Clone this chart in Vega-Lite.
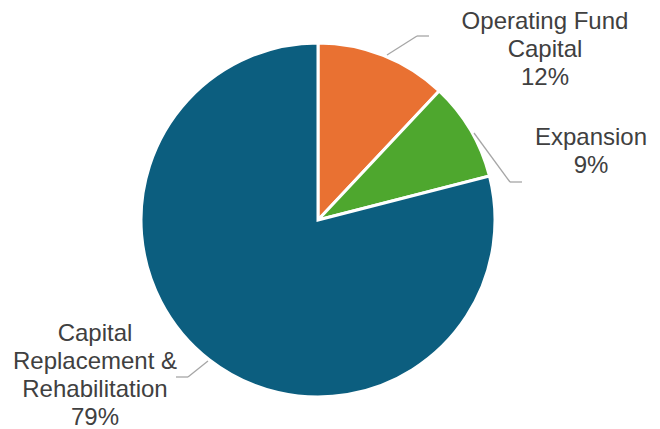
{
  "$schema": "https://vega.github.io/schema/vega-lite/v6.json",
  "width": 636,
  "height": 440,
  "padding": {"left": 0, "top": 0, "right": 24, "bottom": 0},
  "autosize": {"type": "none"},
  "background": "white",
  "config": {"view": {"stroke": null}, "font": "Liberation Sans"},
  "data": {"values": [
    {"category": "Operating Fund Capital", "share": 12, "seq": 1, "label": "Operating Fund\nCapital\n12%"},
    {"category": "Expansion", "share": 9, "seq": 2, "label": "Expansion\n9%"},
    {"category": "Capital Replacement & Rehabilitation", "share": 79, "seq": 3, "label": "Capital\nReplacement &\nRehabilitation\n79%"}
  ]},
  "layer": [
    {
      "mark": {"type": "arc", "outerRadius": 177, "stroke": "white", "strokeWidth": 3},
      "encoding": {
        "theta": {"field": "share", "type": "quantitative", "stack": true},
        "order": {"field": "seq", "type": "quantitative"},
        "color": {"field": "category", "type": "nominal", "legend": null,
          "scale": {"domain": ["Operating Fund Capital", "Expansion", "Capital Replacement & Rehabilitation"], "range": ["#E97132", "#4EA72E", "#0C5E7F"]}}
      }
    },
    {
      "data": {"values": [{}]},
      "mark": {"type": "rule", "color": "#A6A6A6", "strokeWidth": 1.3},
      "encoding": {
        "x": {"datum": 0.3898, "type": "quantitative", "scale": {"domain": [-1.7966, 1.7966], "nice": false, "zero": false}, "axis": null},
        "y": {"datum": 0.9322, "type": "quantitative", "scale": {"domain": [-1.2429, 1.2429], "nice": false, "zero": false}, "axis": null},
        "x2": {"datum": 0.5593}, "y2": {"datum": 1.0395}
      }
    },
    {
      "data": {"values": [{}]},
      "mark": {"type": "rule", "color": "#A6A6A6", "strokeWidth": 1.3},
      "encoding": {
        "x": {"datum": 0.5593, "type": "quantitative", "scale": {"domain": [-1.7966, 1.7966], "nice": false, "zero": false}, "axis": null},
        "y": {"datum": 1.0395, "type": "quantitative", "scale": {"domain": [-1.2429, 1.2429], "nice": false, "zero": false}, "axis": null},
        "x2": {"datum": 0.6271}, "y2": {"datum": 1.0395}
      }
    },
    {
      "data": {"values": [{}]},
      "mark": {"type": "rule", "color": "#A6A6A6", "strokeWidth": 1.3},
      "encoding": {
        "x": {"datum": 0.8814, "type": "quantitative", "scale": {"domain": [-1.7966, 1.7966], "nice": false, "zero": false}, "axis": null},
        "y": {"datum": 0.4915, "type": "quantitative", "scale": {"domain": [-1.2429, 1.2429], "nice": false, "zero": false}, "axis": null},
        "x2": {"datum": 1.0847}, "y2": {"datum": 0.2147}
      }
    },
    {
      "data": {"values": [{}]},
      "mark": {"type": "rule", "color": "#A6A6A6", "strokeWidth": 1.3},
      "encoding": {
        "x": {"datum": 1.0847, "type": "quantitative", "scale": {"domain": [-1.7966, 1.7966], "nice": false, "zero": false}, "axis": null},
        "y": {"datum": 0.2147, "type": "quantitative", "scale": {"domain": [-1.2429, 1.2429], "nice": false, "zero": false}, "axis": null},
        "x2": {"datum": 1.1525}, "y2": {"datum": 0.2147}
      }
    },
    {
      "data": {"values": [{}]},
      "mark": {"type": "rule", "color": "#A6A6A6", "strokeWidth": 1.3},
      "encoding": {
        "x": {"datum": -0.6215, "type": "quantitative", "scale": {"domain": [-1.7966, 1.7966], "nice": false, "zero": false}, "axis": null},
        "y": {"datum": -0.7966, "type": "quantitative", "scale": {"domain": [-1.2429, 1.2429], "nice": false, "zero": false}, "axis": null},
        "x2": {"datum": -0.7345}, "y2": {"datum": -0.8870}
      }
    },
    {
      "data": {"values": [{}]},
      "mark": {"type": "rule", "color": "#A6A6A6", "strokeWidth": 1.3},
      "encoding": {
        "x": {"datum": -0.7345, "type": "quantitative", "scale": {"domain": [-1.7966, 1.7966], "nice": false, "zero": false}, "axis": null},
        "y": {"datum": -0.8870, "type": "quantitative", "scale": {"domain": [-1.2429, 1.2429], "nice": false, "zero": false}, "axis": null},
        "x2": {"datum": -0.8023}, "y2": {"datum": -0.8870}
      }
    },
    {
      "transform": [{"filter": "datum.seq == 1"}],
      "mark": {"type": "text", "fontSize": 24, "lineHeight": 28, "lineBreak": "\n", "align": "center", "baseline": "middle", "color": "#404040"},
      "encoding": {
        "x": {"datum": 1.2825, "type": "quantitative", "scale": {"domain": [-1.7966, 1.7966], "nice": false, "zero": false}, "axis": null},
        "y": {"datum": 1.1186, "type": "quantitative", "scale": {"domain": [-1.2429, 1.2429], "nice": false, "zero": false}, "axis": null},
        "text": {"field": "label", "type": "nominal"}
      }
    },
    {
      "transform": [{"filter": "datum.seq == 2"}],
      "mark": {"type": "text", "fontSize": 24, "lineHeight": 28, "lineBreak": "\n", "align": "center", "baseline": "middle", "color": "#404040"},
      "encoding": {
        "x": {"datum": 1.5424, "type": "quantitative", "scale": {"domain": [-1.7966, 1.7966], "nice": false, "zero": false}, "axis": null},
        "y": {"datum": 0.4633, "type": "quantitative", "scale": {"domain": [-1.2429, 1.2429], "nice": false, "zero": false}, "axis": null},
        "text": {"field": "label", "type": "nominal"}
      }
    },
    {
      "transform": [{"filter": "datum.seq == 3"}],
      "mark": {"type": "text", "fontSize": 24, "lineHeight": 28, "lineBreak": "\n", "align": "center", "baseline": "middle", "color": "#404040"},
      "encoding": {
        "x": {"datum": -1.2599, "type": "quantitative", "scale": {"domain": [-1.7966, 1.7966], "nice": false, "zero": false}, "axis": null},
        "y": {"datum": -0.6441, "type": "quantitative", "scale": {"domain": [-1.2429, 1.2429], "nice": false, "zero": false}, "axis": null},
        "text": {"field": "label", "type": "nominal"}
      }
    }
  ]
}
